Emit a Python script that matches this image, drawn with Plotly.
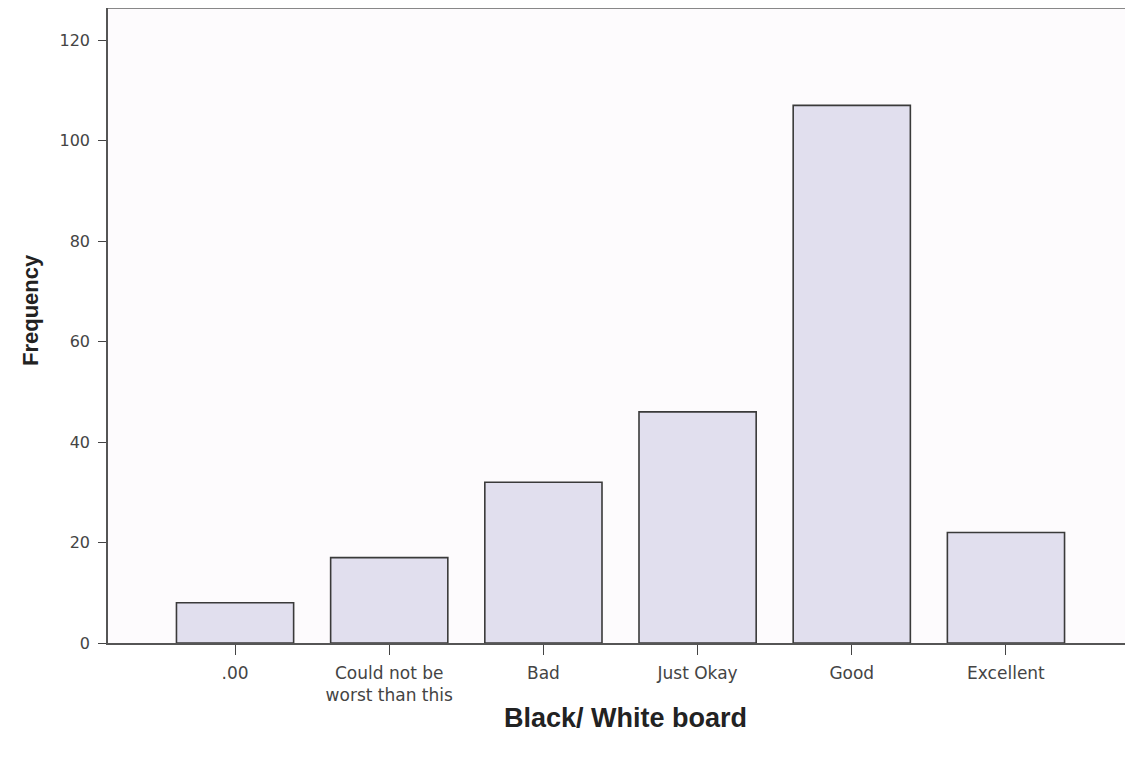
import plotly.graph_objects as go

categories = [".00", "Could not be<br>worst than this", "Bad", "Just Okay", "Good", "Excellent"]
frequency = [8, 17, 32, 46, 107, 22]
y_ticks = [0, 20, 40, 60, 80, 100, 120]

fig = go.Figure()
fig.add_trace(go.Bar(
    x=list(range(len(categories))),
    y=frequency,
    width=0.76,
    marker=dict(color="#e1dfee", line=dict(color="#3a3a3a", width=1.6)),
))

fig.update_layout(
    width=1125, height=749,
    margin=dict(l=100, r=0, t=0, b=114),
    paper_bgcolor="#ffffff",
    plot_bgcolor="#fdfbfd",
    showlegend=False,
    font=dict(family="Liberation Sans, Arial, sans-serif", color="#333333", size=16),
    xaxis=dict(
        range=[-0.824, 5.824],
        tickmode="array",
        tickvals=list(range(len(categories))),
        ticktext=categories,
        ticks="outside", ticklen=10, tickcolor="#444444", tickwidth=1.2,
        showline=True, linecolor="#555555", linewidth=1.6,
        showgrid=False, zeroline=False,
        ticklabelstandoff=4,
        tickfont=dict(family="DejaVu Sans, sans-serif", size=17, color="#444444"),
    ),
    yaxis=dict(
        range=[0, 126.37],
        tickmode="array",
        tickvals=y_ticks,
        ticks="outside", ticklen=8, tickcolor="#444444", tickwidth=1.2,
        showline=True, linecolor="#555555", linewidth=1.6,
        showgrid=False, zeroline=False,
        ticklabelstandoff=5,
        tickfont=dict(family="DejaVu Sans, sans-serif", size=16, color="#444444"),
    ),
    shapes=[dict(type="line", xref="paper", yref="paper", x0=0, x1=1, y0=1, y1=1,
                 line=dict(color="#888888", width=2))],
    annotations=[
        dict(text="<b>Black/ White board</b>", xref="paper", yref="paper",
             x=0.5044, y=-0.118, xanchor="center", yanchor="middle", showarrow=False,
             font=dict(family="Liberation Sans, Arial, sans-serif", size=27, color="#222222")),
        dict(text="<b>Frequency</b>", xref="paper", yref="paper", textangle=-90,
             x=-0.0761, y=0.5244, xanchor="center", yanchor="middle", showarrow=False,
             font=dict(family="Liberation Sans, Arial, sans-serif", size=22, color="#222222")),
    ],
)

fig.write_html("out.html")
